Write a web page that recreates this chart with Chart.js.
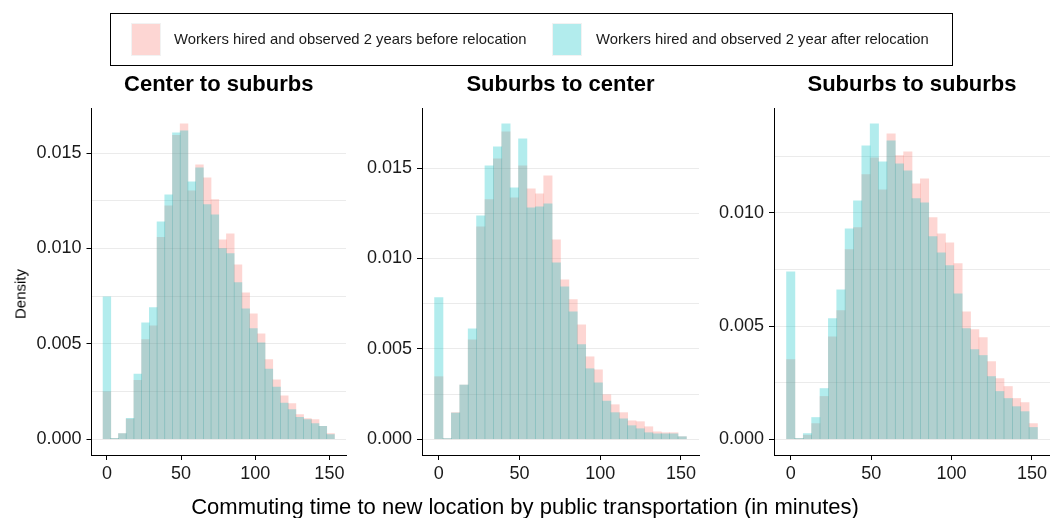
<!DOCTYPE html>
<html><head><meta charset="utf-8">
<script src="https://cdn.jsdelivr.net/npm/chart.js@4"></script>
<style>
body{margin:0;width:1050px;height:518px;background:#fff;position:relative;overflow:hidden;font-family:'Liberation Sans',Arial,sans-serif}
canvas{position:absolute;top:0}
#legend{position:absolute;left:110px;top:13px;width:843px;height:53px;border:1px solid #000;box-sizing:border-box;font-size:14.8px;color:#1a1a1a}
.key{position:absolute;top:9px;width:30px;height:33px;box-sizing:border-box;border:1px solid #f2f2f2}
.lt{position:absolute;top:17px;white-space:nowrap}
#ylab{position:absolute;left:20px;top:294px;transform:translate(-50%,-50%) rotate(-90deg);font-size:15px;color:#000;white-space:nowrap}
#xlab{position:absolute;left:525px;top:507px;transform:translate(-50%,-50%);font-size:22px;color:#000;white-space:nowrap}
</style></head>
<body>
<canvas id="p1" width="350" height="500" style="left:0;width:350px;height:500px"></canvas>
<canvas id="p2" width="352" height="500" style="left:350px;width:352px;height:500px"></canvas>
<canvas id="p3" width="348" height="500" style="left:702px;width:348px;height:500px"></canvas>
<div id="legend"></div>
<div id="ylab">Density</div>
<div id="xlab">Commuting time to new location by public transportation (in minutes)</div>
<script>
const seriesLabels = ["Workers hired and observed 2 years before relocation", "Workers hired and observed 2 year after relocation"];
const panelTitles = ["Center to suburbs", "Suburbs to center", "Suburbs to suburbs"];
const binCenters = [0,5.2,10.4,15.6,20.8,26,31.2,36.4,41.6,46.8,52,57.2,62.4,67.6,72.8,78,83.2,88.4,93.6,98.8,104,109.2,114.4,119.6,124.8,130,135.2,140.4,145.6,150.8];
const xTicks = [0,50,100,150];
const yTickLabels = [0,0.005,0.010,0.015];
const yGridLines = [0,0.0025,0.005,0.0075,0.010,0.0125,0.015];

const p1Before = [0.00248,0.00005,0.00029,0.00106,0.00309,0.00522,0.00595,0.01058,0.01224,0.01593,0.01654,0.01303,0.01439,0.01371,0.01256,0.01046,0.01077,0.00915,0.00767,0.00658,0.00553,0.00417,0.00312,0.00228,0.00187,0.00129,0.00108,0.00103,0.00068,0.00029];
const p1After  = [0.00747,0.00005,0.00029,0.00110,0.00342,0.00610,0.00690,0.01140,0.01282,0.01607,0.01617,0.01350,0.01423,0.01230,0.01177,0.00999,0.00973,0.00821,0.00684,0.00580,0.00506,0.00368,0.00274,0.00190,0.00155,0.00115,0.00103,0.00082,0.00068,0.00024];
const p2Before = [0.00346,0.00004,0.00147,0.00300,0.00550,0.01175,0.01326,0.01551,0.01701,0.01336,0.01513,0.01385,0.01358,0.01457,0.01103,0.00882,0.00772,0.00633,0.00456,0.00384,0.00246,0.00191,0.00147,0.00102,0.00097,0.00069,0.00041,0.00036,0.00036,0.00014];
const p2After  = [0.00783,0.00004,0.00145,0.00300,0.00611,0.01236,0.01513,0.01618,0.01745,0.01391,0.01662,0.01280,0.01286,0.01302,0.00976,0.00843,0.00705,0.00523,0.00390,0.00312,0.00211,0.00147,0.00113,0.00075,0.00058,0.00036,0.00030,0.00030,0.00030,0.00014];
const p3Before = [0.00352,0.00004,0.00018,0.00069,0.00189,0.00453,0.00568,0.00838,0.00935,0.01169,0.01244,0.01102,0.01350,0.01253,0.01270,0.01129,0.01151,0.00979,0.00908,0.00868,0.00776,0.00563,0.00484,0.00449,0.00343,0.00268,0.00233,0.00180,0.00162,0.00069];
const p3After  = [0.00740,0.00004,0.00025,0.00096,0.00224,0.00533,0.00660,0.00930,0.01054,0.01297,0.01394,0.01226,0.01319,0.01217,0.01186,0.01063,0.01045,0.00895,0.00824,0.00767,0.00643,0.00489,0.00396,0.00370,0.00277,0.00211,0.00180,0.00144,0.00122,0.00052];

const redFill = 'rgba(248,118,109,0.3)';
const tealFill = 'rgba(0,191,196,0.3)';
const F = "'Liberation Sans', Arial, sans-serif";

// legend
const lg = document.getElementById('legend');
[[redFill, 20, 63], [tealFill, 441, 485]].forEach((k, i) => {
  const key = document.createElement('div');
  key.className = 'key'; key.style.left = k[1] + 'px'; key.style.background = k[0];
  lg.appendChild(key);
  const t = document.createElement('div');
  t.className = 'lt'; t.style.left = k[2] + 'px'; t.textContent = seriesLabels[i];
  lg.appendChild(t);
});

const isMajor = v => yTickLabels.some(t => Math.abs(t - v) < 1e-9);

function makePanel(id, title, before, after, axisW, padRight) {
  const maxV = Math.max(...before, ...after);
  new Chart(document.getElementById(id), {
    type: 'bar',
    data: { datasets: [
      { label: seriesLabels[1], data: binCenters.map((x, i) => ({x, y: after[i]})), backgroundColor: tealFill, order: 0, grouped: false, barPercentage: 1, categoryPercentage: 1, borderWidth: 0 },
      { label: seriesLabels[0], data: binCenters.map((x, i) => ({x, y: before[i]})), backgroundColor: redFill, order: 1, grouped: false, barPercentage: 1, categoryPercentage: 1, borderWidth: 0 }
    ]},
    options: {
      responsive: false, animation: false,
      layout: { padding: { left: 0, right: padRight, top: 71.3, bottom: 0 } },
      plugins: {
        legend: { display: false }, tooltip: { enabled: false },
        title: { display: true, text: title, fullSize: false, color: '#000', font: { size: 22, weight: 'bold', family: F }, padding: { top: 0, bottom: 10.3 } }
      },
      scales: {
        x: {
          type: 'linear', min: -10.4, max: 161.2, offset: false,
          afterBuildTicks: s => { s.ticks = xTicks.map(v => ({value: v})); },
          afterFit: s => { s.height = 45; },
          grid: { display: true, offset: false, drawOnChartArea: false, drawTicks: true, tickLength: 5, tickColor: '#000' },
          border: { display: true, color: '#000', width: 1 },
          ticks: { font: { size: 18, family: F }, color: '#1a1a1a', padding: 3, maxRotation: 0, autoSkip: false }
        },
        y: {
          min: -0.05 * maxV, max: 1.05 * maxV,
          afterBuildTicks: s => { s.ticks = yGridLines.filter(v => v <= 1.05 * maxV).map(v => ({value: v})); },
          afterFit: s => { s.width = axisW; },
          grid: { color: '#ebebeb', lineWidth: 1, drawTicks: true, tickLength: 5, tickColor: c => isMajor(c.tick.value) ? '#000' : 'rgba(0,0,0,0)' },
          border: { display: true, color: '#000', width: 1 },
          ticks: { font: { size: 18, family: F }, color: '#1a1a1a', padding: 5, autoSkip: false, callback: v => isMajor(v) ? v.toFixed(3) : '' }
        }
      }
    }
  });
}
makePanel('p1', panelTitles[0], p1Before, p1After, 91.5, 4);
makePanel('p2', panelTitles[1], p2Before, p2After, 72, 3);
makePanel('p3', panelTitles[2], p3Before, p3After, 72, 0);
</script>
</body></html>
